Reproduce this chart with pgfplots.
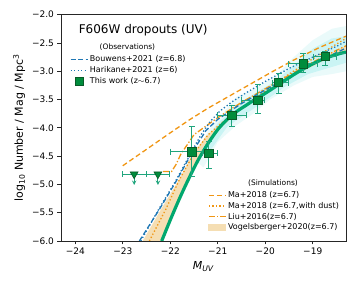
\documentclass[border=0pt]{standalone}
\usepackage{fontspec}
\setmainfont{DejaVu Sans}
\usepackage{pgfplots}
\pgfplotsset{compat=1.18}
\definecolor{gline}{RGB}{0,168,110}
\definecolor{gerr}{RGB}{32,165,125}
\definecolor{gfill}{RGB}{0,140,60}
\definecolor{gedge}{RGB}{10,90,40}
\definecolor{bblue}{RGB}{31,119,180}
\definecolor{oor}{RGB}{240,150,20}
\definecolor{wheatc}{RGB}{245,222,179}
\definecolor{cyanc}{RGB}{90,220,220}
\begin{document}
\begin{tikzpicture}
\path[use as bounding box] (-61pt,-45pt) rectangle (296pt,241pt);
\begin{axis}[
 at={(0,0)}, anchor=south west, scale only axis, width=285pt, height=226.3pt,
 xmin=-24.3, xmax=-18.3, ymin=-6, ymax=-2,
 xtick={-24,-23,-22,-21,-20,-19}, xticklabels={−24,−23,−22,−21,−20,−19},
 ytick={-6,-5.5,-5,-4.5,-4,-3.5,-3,-2.5,-2}, yticklabels={−6.0,−5.5,−5.0,−4.5,−4.0,−3.5,−3.0,−2.5,−2.0},
 tick align=outside, xtick pos=bottom, ytick pos=left, major tick length=3.5pt,
 tick style={black!85, line width=0.7pt},
 tick label style={font=\fontsize{9}{10}\selectfont},
 xlabel={\textit{M}\textsubscript{\textit{UV}}},
 ylabel={log\textsubscript{10} Number / Mag / Mpc\textsuperscript{3}},
 label style={font=\fontsize{11}{12}\selectfont},
 axis line style={black!85, line width=0.8pt},
 legend style={at={(rel axis cs:0.505,0.236)}, anchor=north west, draw=none, fill=none,
   font=\fontsize{8}{9}\selectfont, nodes={inner sep=1.6pt}, cells={anchor=west}},
 legend image post style={line width=1.3pt},
]
% cyan cloud
\addplot[fill=cyanc, fill opacity=0.13, draw=none, forget plot] coordinates {
(-21.5,-4.55) (-21.2,-4.05) (-20.9,-3.75) (-20.6,-3.45) (-20.2,-3.3) (-19.8,-3.1) (-19.4,-2.75) (-19.0,-2.45) (-18.6,-2.25) (-18.3,-2.2)
(-18.3,-3.0) (-18.6,-3.05) (-19.0,-3.1) (-19.4,-3.25) (-19.9,-3.5) (-20.2,-3.72) (-20.6,-3.95) (-21.0,-4.25) (-21.3,-4.7)} -- cycle;
\addplot[fill=cyanc, fill opacity=0.22, draw=none, forget plot] coordinates {
(-21.35,-4.3) (-21.0,-3.92) (-20.6,-3.6) (-20.2,-3.38) (-19.8,-3.18) (-19.4,-2.9) (-19.0,-2.6) (-18.6,-2.42) (-18.3,-2.38)
(-18.3,-2.85) (-18.7,-2.95) (-19.1,-3.05) (-19.6,-3.28) (-20.0,-3.52) (-20.4,-3.75) (-20.8,-3.98) (-21.2,-4.45)} -- cycle;
% Vogelsberger band
\addplot[fill=wheatc, draw=none, forget plot] coordinates {
(-22.58,-6.0) (-22.2,-5.45) (-21.82,-4.92) (-21.55,-4.5) (-21.25,-4.15) (-20.9,-3.9) (-20.5,-3.65) (-20.0,-3.36) (-19.5,-3.1) (-19.0,-2.86) (-18.5,-2.63) (-18.3,-2.55)
(-18.3,-2.64) (-18.5,-2.70) (-19.0,-2.91) (-19.5,-3.12) (-20.0,-3.4) (-20.5,-3.66) (-21.0,-4.05) (-21.3,-4.33) (-21.6,-4.9) (-21.9,-5.45) (-22.2,-6.0)} -- cycle;
% Ma+2018
\addplot[oor, line width=1.3pt, dash pattern=on 5pt off 3pt] coordinates {
(-23.0,-4.67) (-22.5,-4.38) (-22.02,-4.10) (-21.6,-3.86) (-21.2,-3.65) (-20.76,-3.44) (-20.34,-3.24) (-19.9,-3.03) (-19.42,-2.81) (-18.86,-2.58) (-18.3,-2.38)};
\addlegendentry{Ma+2018 (z=6.7)}
\addplot[oor, line width=1.3pt, dash pattern=on 1.3pt off 2.2pt] coordinates {
(-22.44,-6.0) (-22.1,-5.45) (-21.81,-4.92) (-21.5,-4.45) (-21.2,-4.12) (-20.9,-3.9) (-20.5,-3.65) (-20.0,-3.35) (-19.5,-3.05) (-19.0,-2.78) (-18.5,-2.52) (-18.3,-2.42)};
\addlegendentry{Ma+2018 (z=6.7,with dust)}
\addplot[oor, line width=1.3pt, dash pattern=on 6pt off 2pt on 1.3pt off 2pt] coordinates {
(-22.15,-4.77) (-21.97,-4.77) (-21.88,-4.65) (-21.78,-4.47) (-21.5,-4.12) (-21.0,-3.82) (-20.5,-3.55) (-20.0,-3.31) (-19.5,-3.07) (-19.0,-2.84) (-18.5,-2.63) (-18.3,-2.55)};
\addlegendentry{Liu+2016(z=6.7)}
\addlegendimage{area legend, fill=wheatc, draw=wheatc}
\addlegendentry{Vogelsberger+2020(z=6.7)}
\node[font=\fontsize{7.5}{9}\selectfont] at (rel axis cs:0.744,0.255) {(Simulations)};
\end{axis}
\begin{axis}[
 at={(0,0)}, anchor=south west, scale only axis, width=285pt, height=226.3pt,
 xmin=-24.3, xmax=-18.3, ymin=-6, ymax=-2, hide axis, unbounded coords=jump,
 legend style={at={(rel axis cs:0.02,0.835)}, anchor=north west, draw=none, fill=none,
   font=\fontsize{8}{9}\selectfont, nodes={inner sep=1.6pt}, cells={anchor=west}},
 legend image post style={line width=1.3pt},
]
\addplot[bblue, line width=1.3pt, dash pattern=on 5pt off 2.5pt] coordinates {
(-22.65,-6.0) (-22.25,-5.47) (-21.88,-4.95) (-21.55,-4.45) (-21.25,-4.05) (-21.0,-3.85) (-20.5,-3.57) (-20.0,-3.33) (-19.5,-3.10) (-19.0,-2.88) (-18.5,-2.67) (-18.3,-2.59)};
\addlegendentry{Bouwens+2021 (z=6.8)}
\addplot[bblue, line width=1.3pt, dash pattern=on 1.3pt off 2.2pt] coordinates {
(-22.62,-6.0) (-22.25,-5.45) (-21.88,-4.93) (-21.55,-4.42) (-21.35,-4.12) (-21.15,-3.88) (-20.95,-3.70) (-20.7,-3.54) (-20.4,-3.38) (-20.0,-3.18) (-19.5,-2.95) (-19.0,-2.75) (-18.5,-2.56) (-18.3,-2.47)};
\addlegendentry{Harikane+2021 (z=6)}
% this work fit
\addplot[gline, line width=3.2pt, smooth, forget plot] coordinates {
(-22.18,-6.00) (-22.0,-5.63) (-21.8,-5.24) (-21.6,-4.88) (-21.4,-4.55) (-21.2,-4.27) (-21.0,-4.03) (-20.8,-3.85) (-20.6,-3.71) (-20.4,-3.60) (-20.2,-3.49) (-20.0,-3.39) (-19.8,-3.28) (-19.6,-3.17) (-19.4,-3.06) (-19.2,-2.96) (-19.0,-2.87) (-18.8,-2.79) (-18.6,-2.73) (-18.4,-2.68) (-18.3,-2.66)};
% vertical error bars
\addplot[gerr, line width=1pt, forget plot] coordinates {
(-21.55,-3.98) (-21.55,-4.86) (nan,nan)
(-21.19,-4.25) (-21.19,-4.71) (nan,nan)
(-20.70,-3.60) (-20.70,-3.98) (nan,nan)
(-20.16,-3.24) (-20.16,-3.74) (nan,nan)
(-19.72,-3.04) (-19.72,-3.39) (nan,nan)
(-19.20,-2.69) (-19.20,-3.03) (nan,nan)
(-18.74,-2.65) (-18.74,-2.89) (nan,nan)
(-18.25,-2.58) (-18.25,-2.78)};
\addplot[gerr, only marks, mark=-, mark size=3pt, mark options={line width=1pt}, forget plot] coordinates {
(-21.55,-3.98) (-21.55,-4.86) (-21.19,-4.25) (-21.19,-4.71) (-20.70,-3.60) (-20.70,-3.98)
(-20.16,-3.24) (-20.16,-3.74) (-19.72,-3.04) (-19.72,-3.39) (-19.20,-2.69) (-19.20,-3.03)
(-18.74,-2.65) (-18.74,-2.89) (-18.25,-2.58) (-18.25,-2.78)};
% horizontal error bars
\addplot[gerr, line width=1pt, forget plot] coordinates {
(-22.00,-4.42) (-21.35,-4.42) (nan,nan)
(-21.33,-4.45) (-21.00,-4.45) (nan,nan)
(-21.00,-3.78) (-20.40,-3.78) (nan,nan)
(-20.51,-3.51) (-20.02,-3.51) (nan,nan)
(-19.85,-3.20) (-19.50,-3.20) (nan,nan)
(-19.50,-2.87) (-18.90,-2.87) (nan,nan)
(-18.99,-2.74) (-18.51,-2.74) (nan,nan)
(-18.50,-2.68) (-18.00,-2.68) (nan,nan)
(-23.01,-4.82) (-22.51,-4.82) (nan,nan)
(-22.51,-4.82) (-22.01,-4.82)};
\addplot[gerr, only marks, mark=|, mark size=3pt, mark options={line width=1pt}, forget plot] coordinates {
(-22.00,-4.42) (-21.33,-4.45) (-21.00,-4.45) (-21.00,-3.78) (-20.40,-3.78)
(-20.51,-3.51) (-20.02,-3.51) (-19.85,-3.20) (-19.50,-3.20) (-19.50,-2.87) (-18.90,-2.87)
(-18.99,-2.74) (-18.51,-2.74) (-18.50,-2.68)
(-23.01,-4.82) (-22.51,-4.82) (-22.01,-4.82)};
% upper limit arrows
\addplot[quiver={u=0, v=-0.19}, gerr, line width=1pt, -stealth, forget plot] coordinates {(-22.76,-4.82) (-22.26,-4.82)};
% markers
\addplot[only marks, mark=square*, mark size=4.2pt, mark options={fill=gfill, draw=gedge, line width=0.6pt}, forget plot] coordinates {
(-21.55,-4.42) (-21.19,-4.45) (-20.70,-3.78) (-20.16,-3.51) (-19.72,-3.20) (-19.20,-2.87) (-18.74,-2.74) (-18.25,-2.68)};
\addplot[only marks, mark=triangle*, mark size=4.5pt, mark options={rotate=180, fill=gfill, draw=gedge, line width=0.6pt}, forget plot] coordinates {
(-22.76,-4.82) (-22.26,-4.82)};
\addlegendimage{only marks, mark=square*, mark size=4.2pt, mark options={fill=gfill, draw=gedge, line width=0.6pt}}
\addlegendentry{This work (z$\sim$6.7)}
\node[anchor=west, font=\fontsize{12}{14}\selectfont] at (rel axis cs:0.05,0.932) {F606W dropouts (UV)};
\node[font=\fontsize{7.5}{9}\selectfont] at (rel axis cs:0.233,0.857) {(Observations)};
\end{axis}
\end{tikzpicture}
\end{document}
